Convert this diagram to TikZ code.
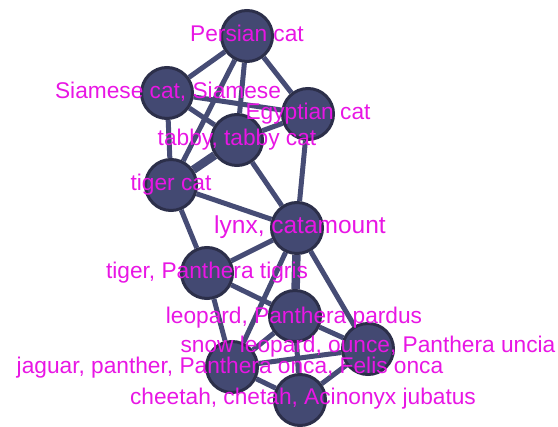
\documentclass[tikz,border=0pt]{standalone}
\usepackage{fontspec}
\setmainfont{Liberation Sans}
\pgfdeclarelayer{bg}\pgfdeclarelayer{fg}\pgfsetlayers{bg,main,fg}
\definecolor{nodefill}{RGB}{67,73,114}
\definecolor{nodeborder}{RGB}{44,47,74}
\definecolor{edgecol}{RGB}{70,76,117}
\definecolor{labcol}{RGB}{232,22,228}
\begin{document}
\begin{tikzpicture}[x=1pt,y=-1pt,
 vert/.style={circle,fill=nodefill,draw=nodeborder,line width=3pt,minimum size=51pt,inner sep=0pt},
 edge/.style={draw=edgecol,line width=5pt},
 heavy/.style={draw=edgecol,line width=8.5pt},
 lab/.style={text=labcol,font=\fontsize{22.7}{22.7}\selectfont,anchor=base,inner sep=0pt},
 biglab/.style={lab,font=\fontsize{24.5}{24.5}\selectfont}]
\useasboundingbox (0,0) rectangle (558,427);
\node[vert] (persian) at (247,36) {};
\node[vert] (siamese) at (167,93) {};
\node[vert] (egyptian) at (308,114) {};
\node[vert] (tabby) at (237,140) {};
\node[vert] (tigercat) at (171,185) {};
\node[vert] (lynx) at (297,228) {};
\node[vert] (tiger) at (207,273) {};
\node[vert] (leopard) at (295,316) {};
\node[vert] (snow) at (368,349) {};
\node[vert] (jaguar) at (232,367) {};
\node[vert] (cheetah) at (300,400) {};
\begin{pgfonlayer}{bg}
\draw[edge] (persian) -- (siamese);
\draw[edge] (persian) -- (egyptian);
\draw[edge] (persian) -- (tabby);
\draw[edge] (persian) -- (tigercat);
\draw[edge] (siamese) -- (egyptian);
\draw[edge] (siamese) -- (tabby);
\draw[edge] (siamese) -- (tigercat);
\draw[edge] (tabby) -- (egyptian);
\draw[heavy] (tabby) -- (tigercat);
\draw[edge] (tabby) -- (lynx);
\draw[edge] (egyptian) -- (lynx);
\draw[edge] (tigercat) -- (lynx);
\draw[edge] (tigercat) -- (tiger);
\draw[edge] (lynx) -- (tiger);
\draw[heavy] (lynx) -- (leopard);
\draw[edge] (lynx) -- (snow);
\draw[edge] (lynx) -- (jaguar);
\draw[edge] (tiger) -- (jaguar);
\draw[edge] (tiger) -- (leopard);
\draw[edge] (leopard) -- (snow);
\draw[edge] (leopard) -- (cheetah);
\draw[edge] (leopard) -- (jaguar);
\draw[edge] (snow) -- (jaguar);
\draw[edge] (snow) -- (cheetah);
\draw[edge] (jaguar) -- (cheetah);
\end{pgfonlayer}
\begin{pgfonlayer}{fg}
\node[lab] (lpersian) at (247,42) {Persian cat};
\node[lab] (lsiamese) at (168,99) {Siamese cat, Siamese};
\node[lab] (legyptian) at (308,120) {Egyptian cat};
\node[lab] (ltabby) at (237,146) {tabby, tabby cat};
\node[lab] (ltigercat) at (171,191) {tiger cat};
\node[biglab] (llynx) at (300,234) {lynx, catamount};
\node[lab] (ltiger) at (207,279) {tiger, Panthera tigris};
\node[lab] (lleopard) at (294,324) {leopard, Panthera pardus};
\node[lab] (lsnow) at (368,353) {snow leopard, ounce, Panthera uncia};
\node[lab] (ljaguar) at (230,374) {jaguar, panther, Panthera onca, Felis onca};
\node[lab] (lcheetah) at (303,405) {cheetah, chetah, Acinonyx jubatus};
\end{pgfonlayer}
\end{tikzpicture}
\end{document}
